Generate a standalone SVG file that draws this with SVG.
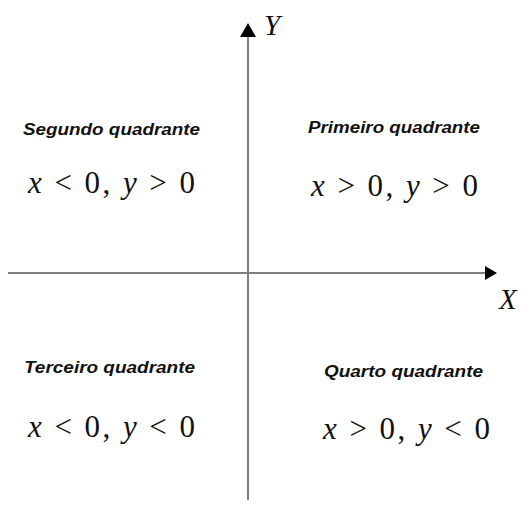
<svg xmlns="http://www.w3.org/2000/svg" width="523" height="510" viewBox="0 0 523 510">
<style>
.ax{stroke:#7f7f7f;stroke-width:2;fill:none}
.t{font-family:"Liberation Sans",Arial,sans-serif;font-style:italic;font-weight:bold;font-size:16px;fill:#111}
.m{font-family:"Liberation Serif","Times New Roman",serif;font-size:31px;fill:#111}
.i{font-style:italic}
.lab{font-family:"Liberation Serif","Times New Roman",serif;font-style:italic;font-size:29px;fill:#111}
</style>
<rect width="523" height="510" fill="#fff"/>
<g id="connectors">
<line class="ax" x1="8" y1="273" x2="486" y2="273"/>
<polygon points="485,266 497,273 485,280" fill="#000"/>
<line class="ax" x1="248" y1="500" x2="248" y2="36"/>
<polygon points="240,37 248,23 256,37" fill="#000"/>
</g>
<g id="axis-labels">
<text class="lab" x="264" y="35">Y</text>
<text class="lab" x="499" y="309">X</text>
</g>
<g id="q2">
<text class="t" x="23" y="135" textLength="177" lengthAdjust="spacingAndGlyphs">Segundo quadrante</text>
<text class="m" x="28" y="193" textLength="167" lengthAdjust="spacing"><tspan class="i">x</tspan> &lt; 0, <tspan class="i">y</tspan> &gt; 0</text>
</g>
<g id="q1">
<text class="t" x="308" y="133" textLength="172" lengthAdjust="spacingAndGlyphs">Primeiro quadrante</text>
<text class="m" x="311" y="196" textLength="167" lengthAdjust="spacing"><tspan class="i">x</tspan> &gt; 0, <tspan class="i">y</tspan> &gt; 0</text>
</g>
<g id="q3">
<text class="t" x="24" y="373" textLength="171" lengthAdjust="spacingAndGlyphs">Terceiro quadrante</text>
<text class="m" x="28" y="437" textLength="167" lengthAdjust="spacing"><tspan class="i">x</tspan> &lt; 0, <tspan class="i">y</tspan> &lt; 0</text>
</g>
<g id="q4">
<text class="t" x="324" y="377" textLength="159" lengthAdjust="spacingAndGlyphs">Quarto quadrante</text>
<text class="m" x="323" y="439" textLength="167" lengthAdjust="spacing"><tspan class="i">x</tspan> &gt; 0, <tspan class="i">y</tspan> &lt; 0</text>
</g>
</svg>
